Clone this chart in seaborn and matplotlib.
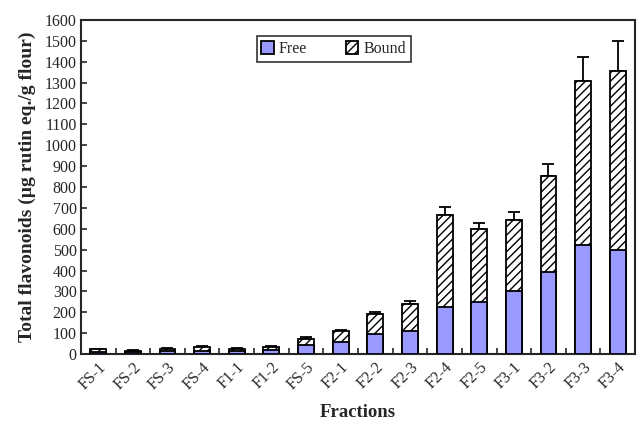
import seaborn as sns
import pandas as pd
import matplotlib.pyplot as plt
from matplotlib.ticker import MultipleLocator, FixedLocator

fractions = ["FS-1", "FS-2", "FS-3", "FS-4", "F1-1", "F1-2", "FS-5", "F2-1",
             "F2-2", "F2-3", "F2-4", "F2-5", "F3-1", "F3-2", "F3-3", "F3-4"]
free = [10, 8, 14, 16, 14, 18, 45, 60, 97, 112, 227, 249, 300, 393, 524, 497]
total = [22, 17, 26, 32, 25, 35, 72, 108, 190, 238, 665, 600, 640, 851, 1308, 1357]
err = [4, 3, 4, 5, 3, 5, 11, 5, 13, 14, 40, 26, 40, 59, 116, 142]

sns.set_style("ticks")
plt.rcParams['font.family'] = ['Liberation Serif', 'DejaVu Serif']
plt.rcParams['hatch.linewidth'] = 1.0

df = pd.DataFrame({"fraction": fractions, "free": free, "total": total, "err": err})

fig = plt.figure(figsize=(6.37, 4.23), dpi=100)
ax = fig.add_axes([0.127, 0.163, 0.870, 0.790])

# error bars (upper only), drawn first so the bars sit over the lower half
ax.errorbar(range(len(df)), df["total"], yerr=[[0] * len(df), df["err"]],
            fmt="none", ecolor="black", elinewidth=1.3, capsize=4, capthick=1.3, zorder=1)

sns.barplot(data=df, x="fraction", y="total", color="white", edgecolor="black",
            hatch="////", linewidth=1.3, width=0.46, ax=ax, label="Bound", zorder=2)
sns.barplot(data=df, x="fraction", y="free", color="#9999FF", saturation=1,
            edgecolor="black", linewidth=1.3, width=0.46, ax=ax, label="Free", zorder=3)

ax.set_xlim(-0.5, len(df) - 0.5)
ax.set_ylim(0, 1600)
ax.yaxis.set_major_locator(MultipleLocator(100))
ax.xaxis.set_minor_locator(FixedLocator([i + 0.5 for i in range(len(df) - 1)]))
ax.tick_params(axis="x", which="major", length=0, labelsize=11.5, pad=4)
ax.tick_params(axis="x", which="minor", direction="in", length=4, width=1.2)
ax.tick_params(axis="y", direction="in", length=4, width=1.2, labelsize=11.5, pad=3)
plt.xticks(rotation=45, rotation_mode="anchor", ha="right")

for s in ax.spines.values():
    s.set_linewidth(1.5)

ax.set_xlabel("Fractions", fontsize=13.5, fontweight="bold", labelpad=8)
ax.set_ylabel("Total flavonoids (µg rutin eq./g flour)", fontsize=14, fontweight="bold", labelpad=6)

handles, labels = ax.get_legend_handles_labels()
order = [labels.index("Free"), labels.index("Bound")]
leg = ax.legend([handles[i] for i in order], [labels[i] for i in order],
                loc="upper center", bbox_to_anchor=(0.456, 0.975), ncol=2,
                fontsize=11.5, frameon=True, fancybox=False, edgecolor="black",
                handlelength=0.8, handleheight=0.8, handletextpad=0.3, columnspacing=2.4,
                borderpad=0.3)
leg.get_frame().set_linewidth(1.2)

plt.savefig("out.png", dpi=100)
